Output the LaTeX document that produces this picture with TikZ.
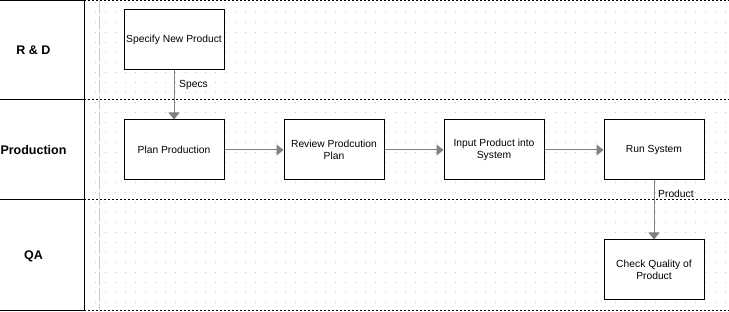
\documentclass[tikz,border=0pt]{standalone}
\usepackage{fontspec}
\setmainfont{Liberation Sans}
\usetikzlibrary{arrows.meta}
\begin{document}
\begin{tikzpicture}[x=1pt,y=-1pt,
  proc/.style={draw=black, line width=1pt, fill=white, minimum width=100pt, minimum height=60pt,
    align=center, font=\fontsize{10.3}{12.5}\selectfont, inner sep=1pt},
  flow/.style={draw=gray, line width=1pt, -{Triangle[length=7pt,width=11pt]}},
  lanelbl/.style={font=\bfseries\fontsize{12.5}{14}\selectfont, inner sep=0pt},
  lbl/.style={font=\fontsize{10.3}{12}\selectfont, anchor=west, inner sep=0pt},
  solidline/.style={draw=black, line width=1pt},
  dashline/.style={draw=black, line width=1pt, dash pattern=on 2pt off 2pt},
  griddot/.style={fill=gray!45}]
\useasboundingbox (0,0) rectangle (729,312);
\fill[white] (0,0) rectangle (729,312);
% grid dots
\foreach \x in {95,105,...,725} {
  \foreach \y in {2,12,...,302} {
    \fill[griddot] (\x,\y) rectangle ++(1,1);
  }
}
% guide line
\draw[gray!40, line width=1pt, dash pattern=on 14pt off 2pt] (99.5,0) -- (99.5,311);
% header lines
\draw[solidline] (0,0.5) -- (84,0.5);
\draw[solidline] (0,100) -- (84,100);
\draw[solidline] (0,200) -- (84,200);
\draw[solidline] (0,310.5) -- (84,310.5);
\draw[solidline] (84,0) -- (84,311);
% lane separators
\draw[dashline] (84,0.5) -- (729,0.5);
\draw[dashline] (84,100) -- (729,100);
\draw[dashline] (84,200) -- (729,200);
\draw[dashline] (84,310.5) -- (729,310.5);
% lane labels
\node[lanelbl] (rd) at (33.5,50.5) {R \& D};
\node[lanelbl] (prodlane) at (33.5,150.5) {Production};
\node[lanelbl] (qa) at (33.5,256) {QA};
% process boxes
\node[proc] (spec) at (174,40) {Specify New Product};
\node[proc] (plan) at (174,150) {Plan Production};
\node[proc] (review) at (334,150) {Review Prodcution\\Plan};
\node[proc] (input) at (494,150) {Input Product into\\System};
\node[proc] (run) at (654,150) {Run System};
\node[proc] (check) at (654,270) {Check Quality of\\Product};
% connectors
\draw[flow] (spec) -- (plan);
\draw[flow] (plan) -- (review);
\draw[flow] (review) -- (input);
\draw[flow] (input) -- (run);
\draw[flow] (run) -- (check);
% connector labels
\node[lbl] (specs) at (179,84.5) {Specs};
\node[lbl] (product) at (658,193.5) {Product};
\end{tikzpicture}
\end{document}
